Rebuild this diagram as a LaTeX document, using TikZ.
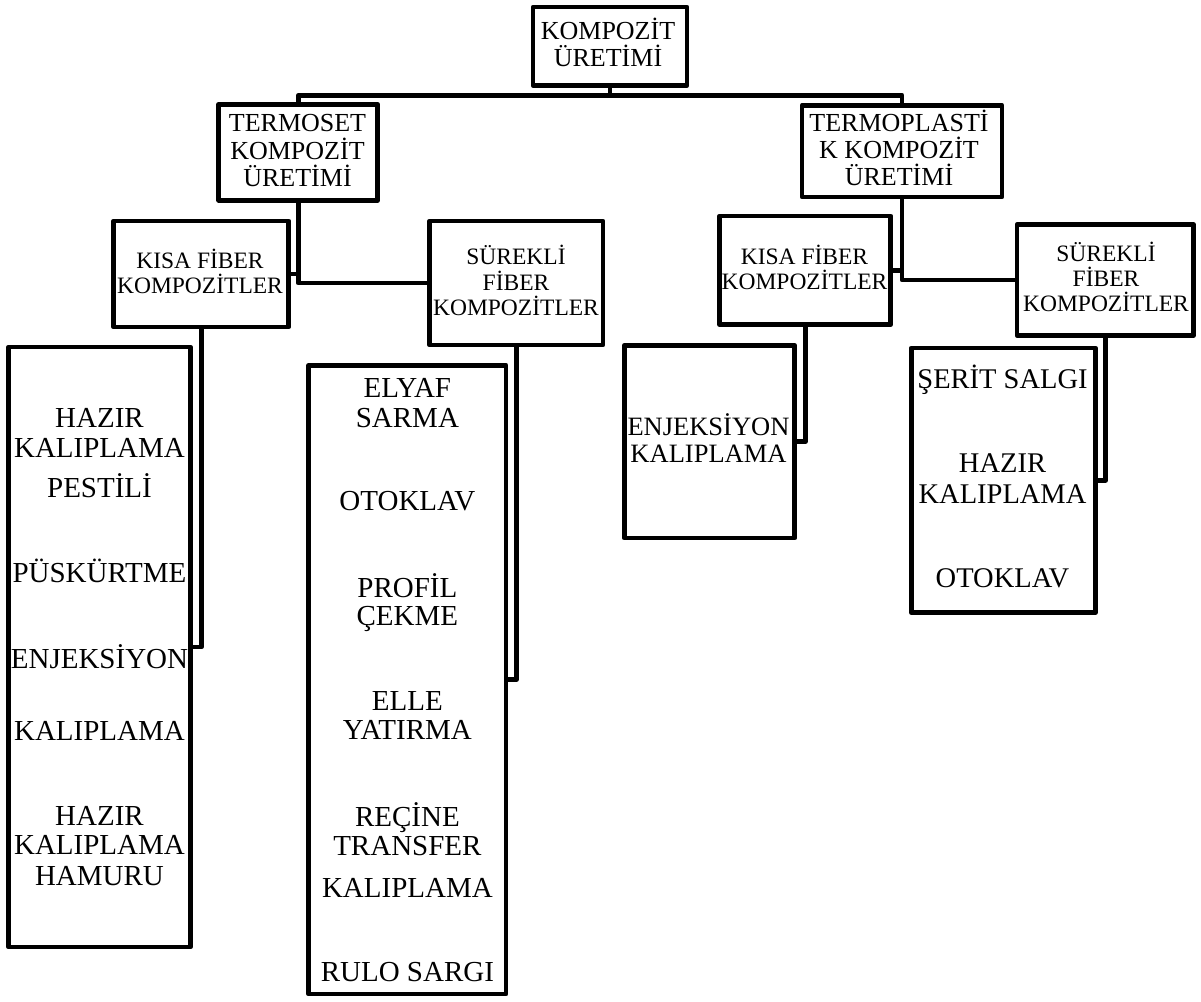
\documentclass[tikz,border=0pt]{standalone}
\usepackage{fontspec}
\setmainfont{Liberation Serif}
\begin{document}
\begin{tikzpicture}[x=1pt,y=-1pt,
  box/.style={draw=black,line width=4.7pt,line join=round,rectangle,inner sep=0pt},
  conn/.style={draw=black,line width=4.7pt,line join=round},
  tl/.style={inner sep=0pt,anchor=base,font=\fontsize{26}{27}\selectfont},
  tm/.style={inner sep=0pt,anchor=base,font=\fontsize{23.5}{25}\selectfont},
  tb/.style={inner sep=0pt,anchor=base,font=\fontsize{29}{30}\selectfont},
  te/.style={inner sep=0pt,anchor=base,font=\fontsize{26.5}{27}\selectfont},
  tr/.style={inner sep=0pt,anchor=base,font=\fontsize{28.5}{30}\selectfont}]
\useasboundingbox (0,0) rectangle (1201,1001);

% boxes
\node[box,minimum width=154pt,minimum height=78.3pt] (top) at (610,46.2) {};
\node[box,minimum width=159pt,minimum height=96pt] (ts) at (298.2,152.3) {};
\node[box,minimum width=200pt,minimum height=91.7pt] (tp) at (902,151.2) {};
\node[box,minimum width=175pt,minimum height=106pt] (kl) at (201.2,274) {};
\node[box,minimum width=173.5pt,minimum height=124pt] (sl) at (516.3,283) {};
\node[box,minimum width=171pt,minimum height=108.7pt] (kr) at (805.3,270.3) {};
\node[box,minimum width=176.7pt,minimum height=110.6pt] (sr) at (1105.4,280) {};
\node[box,minimum width=181.6pt,minimum height=600pt] (bl) at (99.5,647) {};
\node[box,minimum width=197.3pt,minimum height=628.7pt] (bm) at (407.4,679.7) {};
\node[box,minimum width=170.4pt,minimum height=192.7pt] (enj) at (709.5,441.7) {};
\node[box,minimum width=184pt,minimum height=264.7pt] (br) at (1003.3,480.3) {};

% connectors
\coordinate (bus) at (0,95.3);
\draw[conn] (top.south) -- (top.south |- bus);
\draw[conn] (ts.north) -- (ts.north |- bus) -- (tp.north |- bus) -- (tp.north);
\draw[conn] (ts.south) |- (sl.west);
\draw[conn] (kl.east) -- (kl.east -| ts.south);
\draw[conn] (tp.south) |- (sr.west);
\draw[conn] (kr.east) -- (kr.east -| tp.south);
\draw[conn] (kl.south) |- (bl.east);
\draw[conn] (sl.south) |- (bm.east);
\draw[conn] (kr.south) |- (enj.east);
\draw[conn] (sr.south) |- (br.east);

% texts level 0/1
\node[tl] (t1) at (608,39.3) {KOMPOZİT};
\node[tl] (t2) at (608,66) {ÜRETİMİ};
\node[tl] (t3) at (297.5,131.7) {TERMOSET};
\node[tl] (t4) at (297.5,159.3) {KOMPOZİT};
\node[tl] (t5) at (297.5,186.7) {ÜRETİMİ};
\node[tl] (t6) at (899,131.7) {TERMOPLASTİ};
\node[tl] (t7) at (899,158.3) {K KOMPOZİT};
\node[tl] (t8) at (899,185) {ÜRETİMİ};

% level 2
\node[tm] (k1) at (200,268.3) {KISA FİBER};
\node[tm] (k2) at (200,293.3) {KOMPOZİTLER};
\node[tm] (s1) at (516,264) {SÜREKLİ};
\node[tm] (s2) at (516,290) {FİBER};
\node[tm] (s3) at (516,315) {KOMPOZİTLER};
\node[tm] (k3) at (804.5,264) {KISA FİBER};
\node[tm] (k4) at (804.5,289) {KOMPOZİTLER};
\node[tm] (s4) at (1106,261.7) {SÜREKLİ};
\node[tm] (s5) at (1106,286.7) {FİBER};
\node[tm] (s6) at (1106,311.7) {KOMPOZİTLER};

% bottom left box
\node[tb] (a1) at (99.5,427) {HAZIR};
\node[tb] (a2) at (99.5,457) {KALIPLAMA};
\node[tb] (a3) at (99.5,497) {PESTİLİ};
\node[tb] (a4) at (99.5,582) {PÜSKÜRTME};
\node[tb] (a5) at (99.5,668) {ENJEKSİYON};
\node[tb] (a6) at (99.5,740) {KALIPLAMA};
\node[tb] (a7) at (99.5,825) {HAZIR};
\node[tb] (a8) at (99.5,854) {KALIPLAMA};
\node[tb] (a9) at (99.5,885) {HAMURU};

% bottom middle box
\node[tb] (b1) at (407.4,397) {ELYAF};
\node[tb] (b2) at (407.4,427) {SARMA};
\node[tb] (b3) at (407.4,510) {OTOKLAV};
\node[tb] (b4) at (407.4,597) {PROFİL};
\node[tb] (b5) at (407.4,625) {ÇEKME};
\node[tb] (b6) at (407.4,710) {ELLE};
\node[tb] (b7) at (407.4,739) {YATIRMA};
\node[tb] (b8) at (407.4,826) {REÇİNE};
\node[tb] (b9) at (407.4,855) {TRANSFER};
\node[tb] (b10) at (407.4,897) {KALIPLAMA};
\node[tb] (b11) at (407.4,981) {RULO SARGI};

% enjeksiyon box
\node[te] (e1) at (708.5,435.7) {ENJEKSİYON};
\node[te] (e2) at (708.5,462.7) {KALIPLAMA};

% right box
\node[tr] (r1) at (1002.5,388.3) {ŞERİT SALGI};
\node[tr] (r2) at (1002.5,472.7) {HAZIR};
\node[tr] (r3) at (1002.5,503.3) {KALIPLAMA};
\node[tr] (r4) at (1002.5,587.7) {OTOKLAV};
\end{tikzpicture}
\end{document}
